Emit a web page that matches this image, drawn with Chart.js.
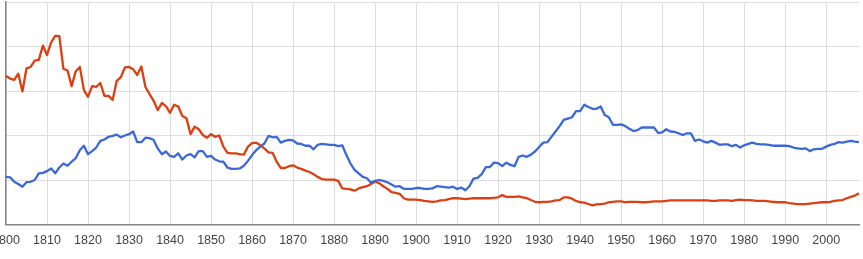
<!DOCTYPE html>
<html>
<head>
<meta charset="utf-8">
<script src="https://cdn.jsdelivr.net/npm/chart.js@4/dist/chart.umd.min.js"></script>
<style>
  html, body {
    margin: 0;
    padding: 0;
    background: #fff;
    overflow: hidden;
  }
  #wrap {
    position: relative;
    width: 863px;
    height: 259px;
    overflow: hidden;
  }
  #chart {
    position: absolute;
    left: -24px;
    top: 0;
  }
</style>
</head>
<body>
<div id="wrap">
  <canvas id="chart" width="887" height="259"></canvas>
</div>
<script>
const FIRST_YEAR = 1800;
const LAST_YEAR = 2008;

const tickYears = [1800, 1810, 1820, 1830, 1840, 1850, 1860, 1870, 1880, 1890, 1900,
  1910, 1920, 1930, 1940, 1950, 1960, 1970, 1980, 1990, 2000];
const gridLevels = [0, 1, 2, 3, 4, 5];

// one value per year, 1800..2008
const blueValues = [
  1.07, 1.06, 0.96, 0.91, 0.85, 0.95, 0.96, 1.00, 1.15, 1.16,
  1.20, 1.26, 1.15, 1.28, 1.37, 1.32, 1.41, 1.49, 1.67, 1.77,
  1.58, 1.65, 1.73, 1.88, 1.91, 1.97, 1.99, 2.02, 1.96, 2.00,
  2.03, 2.09, 1.85, 1.85, 1.95, 1.94, 1.90, 1.71, 1.58, 1.64,
  1.54, 1.52, 1.60, 1.46, 1.55, 1.58, 1.51, 1.65, 1.65, 1.52,
  1.54, 1.46, 1.42, 1.41, 1.28, 1.25, 1.25, 1.26, 1.32, 1.43,
  1.56, 1.67, 1.75, 1.82, 1.99, 1.96, 1.97, 1.84, 1.88, 1.90,
  1.89, 1.82, 1.81, 1.77, 1.77, 1.69, 1.79, 1.81, 1.80, 1.79,
  1.79, 1.76, 1.78, 1.56, 1.37, 1.23, 1.15, 1.07, 1.04, 0.94,
  0.98, 1.00, 0.98, 0.95, 0.90, 0.85, 0.86, 0.80, 0.80, 0.80,
  0.82, 0.82, 0.80, 0.80, 0.81, 0.86, 0.85, 0.84, 0.83, 0.85,
  0.80, 0.83, 0.77, 0.86, 1.03, 1.05, 1.13, 1.29, 1.29, 1.39,
  1.38, 1.31, 1.39, 1.34, 1.31, 1.52, 1.55, 1.52, 1.57, 1.64,
  1.74, 1.84, 1.85, 1.97, 2.09, 2.21, 2.35, 2.38, 2.41, 2.55,
  2.55, 2.69, 2.64, 2.60, 2.60, 2.65, 2.46, 2.41, 2.24, 2.24,
  2.25, 2.21, 2.15, 2.10, 2.12, 2.18, 2.18, 2.18, 2.18, 2.06,
  2.07, 2.14, 2.09, 2.08, 2.05, 2.01, 2.05, 2.05, 1.88, 1.91,
  1.87, 1.84, 1.88, 1.84, 1.79, 1.80, 1.80, 1.76, 1.79, 1.73,
  1.78, 1.81, 1.84, 1.81, 1.80, 1.80, 1.79, 1.77, 1.77, 1.77,
  1.77, 1.76, 1.73, 1.71, 1.70, 1.71, 1.65, 1.69, 1.70, 1.70,
  1.75, 1.79, 1.81, 1.85, 1.84, 1.86, 1.88, 1.86, 1.85,
];

const redValues = [
  3.34, 3.28, 3.25, 3.39, 2.99, 3.51, 3.54, 3.68, 3.70, 4.02,
  3.81, 4.09, 4.24, 4.23, 3.50, 3.46, 3.11, 3.44, 3.54, 3.02,
  2.87, 3.11, 3.09, 3.18, 2.89, 2.89, 2.80, 3.23, 3.31, 3.53,
  3.54, 3.49, 3.36, 3.55, 3.09, 2.93, 2.78, 2.57, 2.73, 2.66,
  2.51, 2.69, 2.65, 2.44, 2.39, 2.03, 2.20, 2.14, 2.01, 1.95,
  2.03, 1.97, 2.00, 1.75, 1.61, 1.60, 1.60, 1.58, 1.57, 1.75,
  1.83, 1.84, 1.78, 1.71, 1.62, 1.61, 1.41, 1.27, 1.27, 1.31,
  1.33, 1.28, 1.25, 1.21, 1.18, 1.13, 1.07, 1.02, 1.01, 1.01,
  1.01, 0.98, 0.81, 0.80, 0.79, 0.76, 0.81, 0.84, 0.86, 0.91,
  0.96, 0.93, 0.86, 0.80, 0.73, 0.71, 0.69, 0.59, 0.56, 0.56,
  0.56, 0.55, 0.53, 0.52, 0.51, 0.52, 0.54, 0.55, 0.57, 0.59,
  0.59, 0.58, 0.57, 0.58, 0.59, 0.59, 0.59, 0.59, 0.59, 0.60,
  0.61, 0.66, 0.62, 0.62, 0.62, 0.63, 0.61, 0.59, 0.55, 0.51,
  0.50, 0.51, 0.51, 0.52, 0.54, 0.55, 0.61, 0.61, 0.58, 0.53,
  0.50, 0.49, 0.46, 0.43, 0.45, 0.46, 0.47, 0.50, 0.51, 0.52,
  0.52, 0.50, 0.51, 0.51, 0.51, 0.50, 0.50, 0.51, 0.52, 0.52,
  0.52, 0.53, 0.54, 0.54, 0.54, 0.54, 0.54, 0.54, 0.54, 0.54,
  0.54, 0.54, 0.53, 0.53, 0.54, 0.54, 0.54, 0.53, 0.55, 0.56,
  0.55, 0.55, 0.54, 0.53, 0.53, 0.53, 0.52, 0.51, 0.50, 0.50,
  0.50, 0.48, 0.47, 0.46, 0.46, 0.46, 0.47, 0.48, 0.49, 0.50,
  0.50, 0.51, 0.53, 0.54, 0.55, 0.59, 0.62, 0.65, 0.70,
];

const GRID_COLOR = '#dedede';
const AXIS_COLOR = '#858585';

function toPoints(values) {
  return values.map((value, index) => ({ x: FIRST_YEAR + index, y: value }));
}

function lineDataset(label, values, color) {
  return {
    label,
    data: toPoints(values),
    borderColor: color,
    borderWidth: 2.3,
    borderJoinStyle: 'round',
    pointRadius: 0,
    tension: 0,
    fill: false,
  };
}

new Chart(document.getElementById('chart'), {
  type: 'line',
  data: {
    datasets: [
      lineDataset('blue', blueValues, '#3a68d6'),
      lineDataset('red', redValues, '#dc3f12'),
    ],
  },
  options: {
    responsive: false,
    animation: false,
    layout: { padding: { top: 2, right: 4, left: 0, bottom: 0 } },
    plugins: {
      legend: { display: false },
      tooltip: { enabled: false },
    },
    scales: {
      x: {
        type: 'linear',
        min: FIRST_YEAR,
        max: LAST_YEAR,
        afterBuildTicks: (axis) => {
          axis.ticks = tickYears.map((value) => ({ value }));
        },
        afterFit: (axis) => {
          axis.height = 34.5;
        },
        grid: { color: GRID_COLOR, drawTicks: false },
        border: { display: true, color: AXIS_COLOR, width: 1.5 },
        ticks: {
          autoSkip: false,
          maxRotation: 0,
          padding: 9,
          color: '#444',
          font: { family: '"Liberation Sans", Arial, sans-serif', size: 12.5 },
          callback: (value) => String(value),
        },
      },
      y: {
        min: 0,
        max: 5,
        afterBuildTicks: (axis) => {
          axis.ticks = gridLevels.map((value) => ({ value }));
        },
        afterFit: (axis) => {
          axis.width = 30;
        },
        grid: { color: GRID_COLOR, drawTicks: false },
        border: { display: true, color: AXIS_COLOR, width: 1.5 },
        ticks: { display: false },
      },
    },
  },
});
</script>
</body>
</html>
